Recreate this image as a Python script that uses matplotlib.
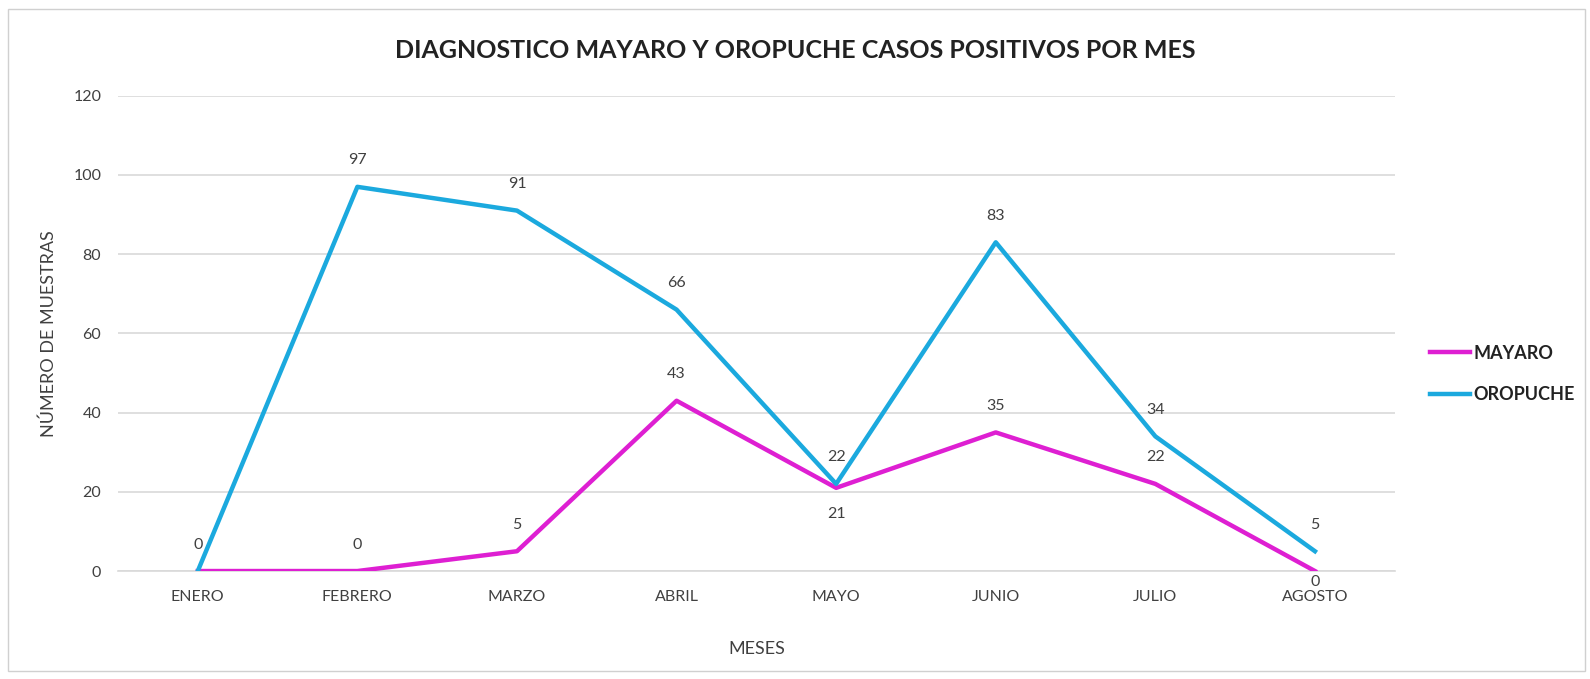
import matplotlib.pyplot as plt
from matplotlib.patches import Rectangle

plt.rcParams['font.family'] = ['Lato', 'DejaVu Sans']

meses = ["ENERO", "FEBRERO", "MARZO", "ABRIL", "MAYO", "JUNIO", "JULIO", "AGOSTO"]
mayaro = [0, 0, 5, 43, 21, 35, 22, 0]
oropuche = [0, 97, 91, 66, 22, 83, 34, 5]

C_MAY = "#DE1FD2"
C_ORO = "#1BA9DE"
TXT = "#404040"

fig = plt.figure(figsize=(15.9, 6.79), dpi=100, facecolor="white")
fig.patches.append(Rectangle((0.005, 0.012), 0.992, 0.975, transform=fig.transFigure,
                             fill=False, ec="#D0D0D0", lw=1.0))

ax = fig.add_axes([0.0742, 0.159, 0.803, 0.700])
x = list(range(len(meses)))
ax.plot(x, mayaro, color=C_MAY, lw=3.2, label="MAYARO", zorder=3)
ax.plot(x, oropuche, color=C_ORO, lw=3.2, label="OROPUCHE", zorder=3)

ax.set_xlim(-0.5, len(meses) - 0.5)
ax.set_ylim(0, 120)
ax.set_yticks(range(0, 121, 20))
ax.set_xticks(x)
ax.set_xticklabels(meses)
ax.tick_params(length=0, labelsize=11.5, colors=TXT, pad=14)
ax.tick_params(axis="y", pad=12)
ax.grid(axis="y", color="#D9D9D9", lw=1.2)
ax.set_axisbelow(True)
for s in ["top", "right", "left"]:
    ax.spines[s].set_visible(False)
ax.spines["bottom"].set_color("#D9D9D9")
ax.spines["bottom"].set_linewidth(1.2)

# data labels
for i, v in enumerate(oropuche):
    ax.annotate(str(v), (i, v), xytext=(0, 14), textcoords="offset points",
                ha="center", va="bottom", fontsize=11.5, color=TXT)
for i, v in enumerate(mayaro):
    if i == 0:
        continue
    if i in (4, 7):
        dy, va = (-14, "top") if i == 4 else (-3, "top")
    else:
        dy, va = 14, "bottom"
    ax.annotate(str(v), (i, v), xytext=(0, dy), textcoords="offset points",
                ha="center", va=va, fontsize=11.5, color=TXT)

ax.set_xlabel("MESES", fontsize=13, color=TXT, labelpad=26)
ax.set_ylabel("NÚMERO DE MUESTRAS", fontsize=13, color=TXT, labelpad=12)

fig.text(0.5, 0.925, "DIAGNOSTICO MAYARO Y OROPUCHE CASOS POSITIVOS POR MES",
         ha="center", va="center", fontsize=18, fontweight="bold", color="#222222")

leg = ax.legend(loc="center left", bbox_to_anchor=(1.015, 0.415), frameon=False,
                fontsize=13, handlelength=2.2, labelspacing=1.35, handletextpad=0.2)
for t in leg.get_texts():
    t.set_fontweight("bold")
    t.set_color("#222222")

fig.savefig("out.png", dpi=100, facecolor="white")
